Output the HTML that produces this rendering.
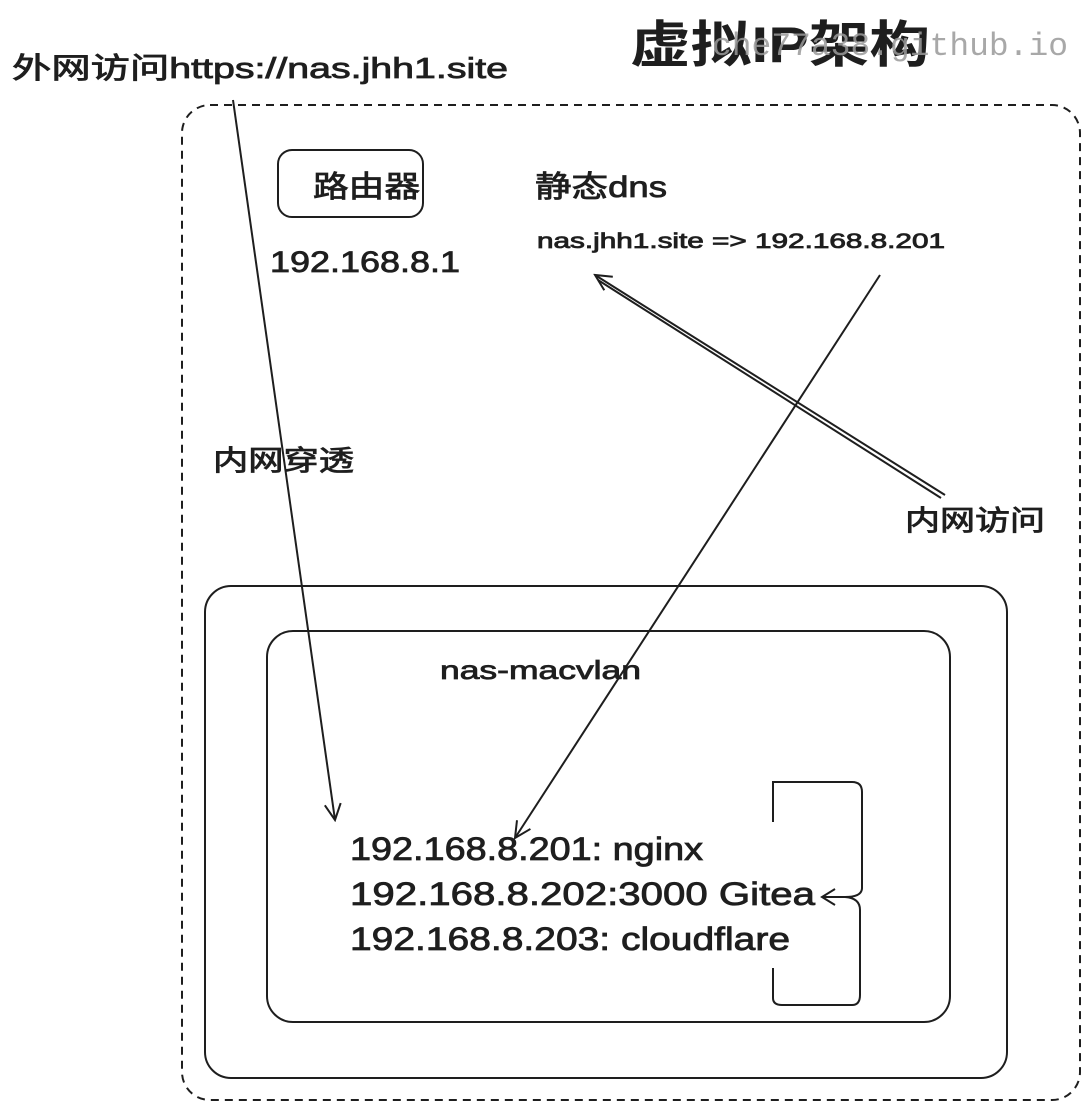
<!DOCTYPE html>
<html><head><meta charset="utf-8"><style>
html,body{margin:0;padding:0;background:#fff;}
svg{display:block;}
text{font-family:"Liberation Sans","Noto Sans CJK SC",sans-serif;fill:#1e1e1e;}
</style></head><body>
<svg width="1089" height="1109" viewBox="0 0 1089 1109" xmlns="http://www.w3.org/2000/svg">
<defs>
<marker id="a" markerWidth="20" markerHeight="20" refX="18" refY="10" orient="auto" markerUnits="userSpaceOnUse">
<path d="M2,2 L18,10 L2,18" fill="none" stroke="#1e1e1e" stroke-width="2"/>
</marker>
</defs>
<rect x="182" y="105" width="898" height="995" rx="28" fill="none" stroke="#1e1e1e" stroke-width="2" stroke-dasharray="8 6"/>
<rect x="278" y="150" width="145" height="67" rx="14" fill="none" stroke="#1e1e1e" stroke-width="2"/>
<rect x="205" y="586" width="802" height="492" rx="26" fill="none" stroke="#1e1e1e" stroke-width="2"/>
<rect x="267" y="631" width="683" height="391" rx="26" fill="none" stroke="#1e1e1e" stroke-width="2"/>

<text x="630" y="62" font-size="50" font-weight="bold" textLength="300" lengthAdjust="spacingAndGlyphs">虚拟IP架构</text>
<text x="712" y="55" font-size="32" style="fill:#9a9a9a;font-family:'Liberation Mono',monospace" opacity="0.85" textLength="356" lengthAdjust="spacingAndGlyphs">che77a38.github.io</text>
<g stroke="#1e1e1e" stroke-width="0.8">
<text x="12" y="78" font-size="29" textLength="496" lengthAdjust="spacingAndGlyphs">外网访问https://nas.jhh1.site</text>
<text x="313" y="197" font-size="30" textLength="107" lengthAdjust="spacingAndGlyphs">路由器</text>
<text x="270" y="272" font-size="30" textLength="190" lengthAdjust="spacingAndGlyphs">192.168.8.1</text>
<text x="535" y="197" font-size="30" textLength="132" lengthAdjust="spacingAndGlyphs">静态dns</text>
<text x="537" y="248" font-size="21" textLength="408" lengthAdjust="spacingAndGlyphs">nas.jhh1.site =&gt; 192.168.8.201</text>
<text x="213" y="470" font-size="28" textLength="141" lengthAdjust="spacingAndGlyphs">内网穿透</text>
<text x="905" y="530" font-size="28" textLength="140" lengthAdjust="spacingAndGlyphs">内网访问</text>
<text x="440" y="679" font-size="26" textLength="201" lengthAdjust="spacingAndGlyphs">nas-macvlan</text>
<text x="350" y="860" font-size="32" textLength="353" lengthAdjust="spacingAndGlyphs">192.168.8.201: nginx</text>
<text x="350" y="905" font-size="32" textLength="465" lengthAdjust="spacingAndGlyphs">192.168.8.202:3000 Gitea</text>
<text x="350" y="950" font-size="32" textLength="440" lengthAdjust="spacingAndGlyphs">192.168.8.203: cloudflare</text>
</g>

<g fill="none" stroke="#1e1e1e" stroke-width="2">
<path d="M233,100 L335,820" marker-end="url(#a)"/>
<path d="M880,275 L515,838" marker-end="url(#a)"/>
<path d="M945,495 L595,275" marker-end="url(#a)"/>
<path d="M941,498 L598,280"/>
<path d="M773,822 L773,782 L852,782 Q862,782 862,792 L862,888 Q862,897 845,897 L822,897"/>
<path d="M773,968 L773,998 Q773,1005 782,1005 L852,1005 Q860,1005 860,995 L860,910 Q860,898 845,897"/>
<path d="M835,889 L822,897 L835,905"/>
</g>
</svg>
</body></html>
